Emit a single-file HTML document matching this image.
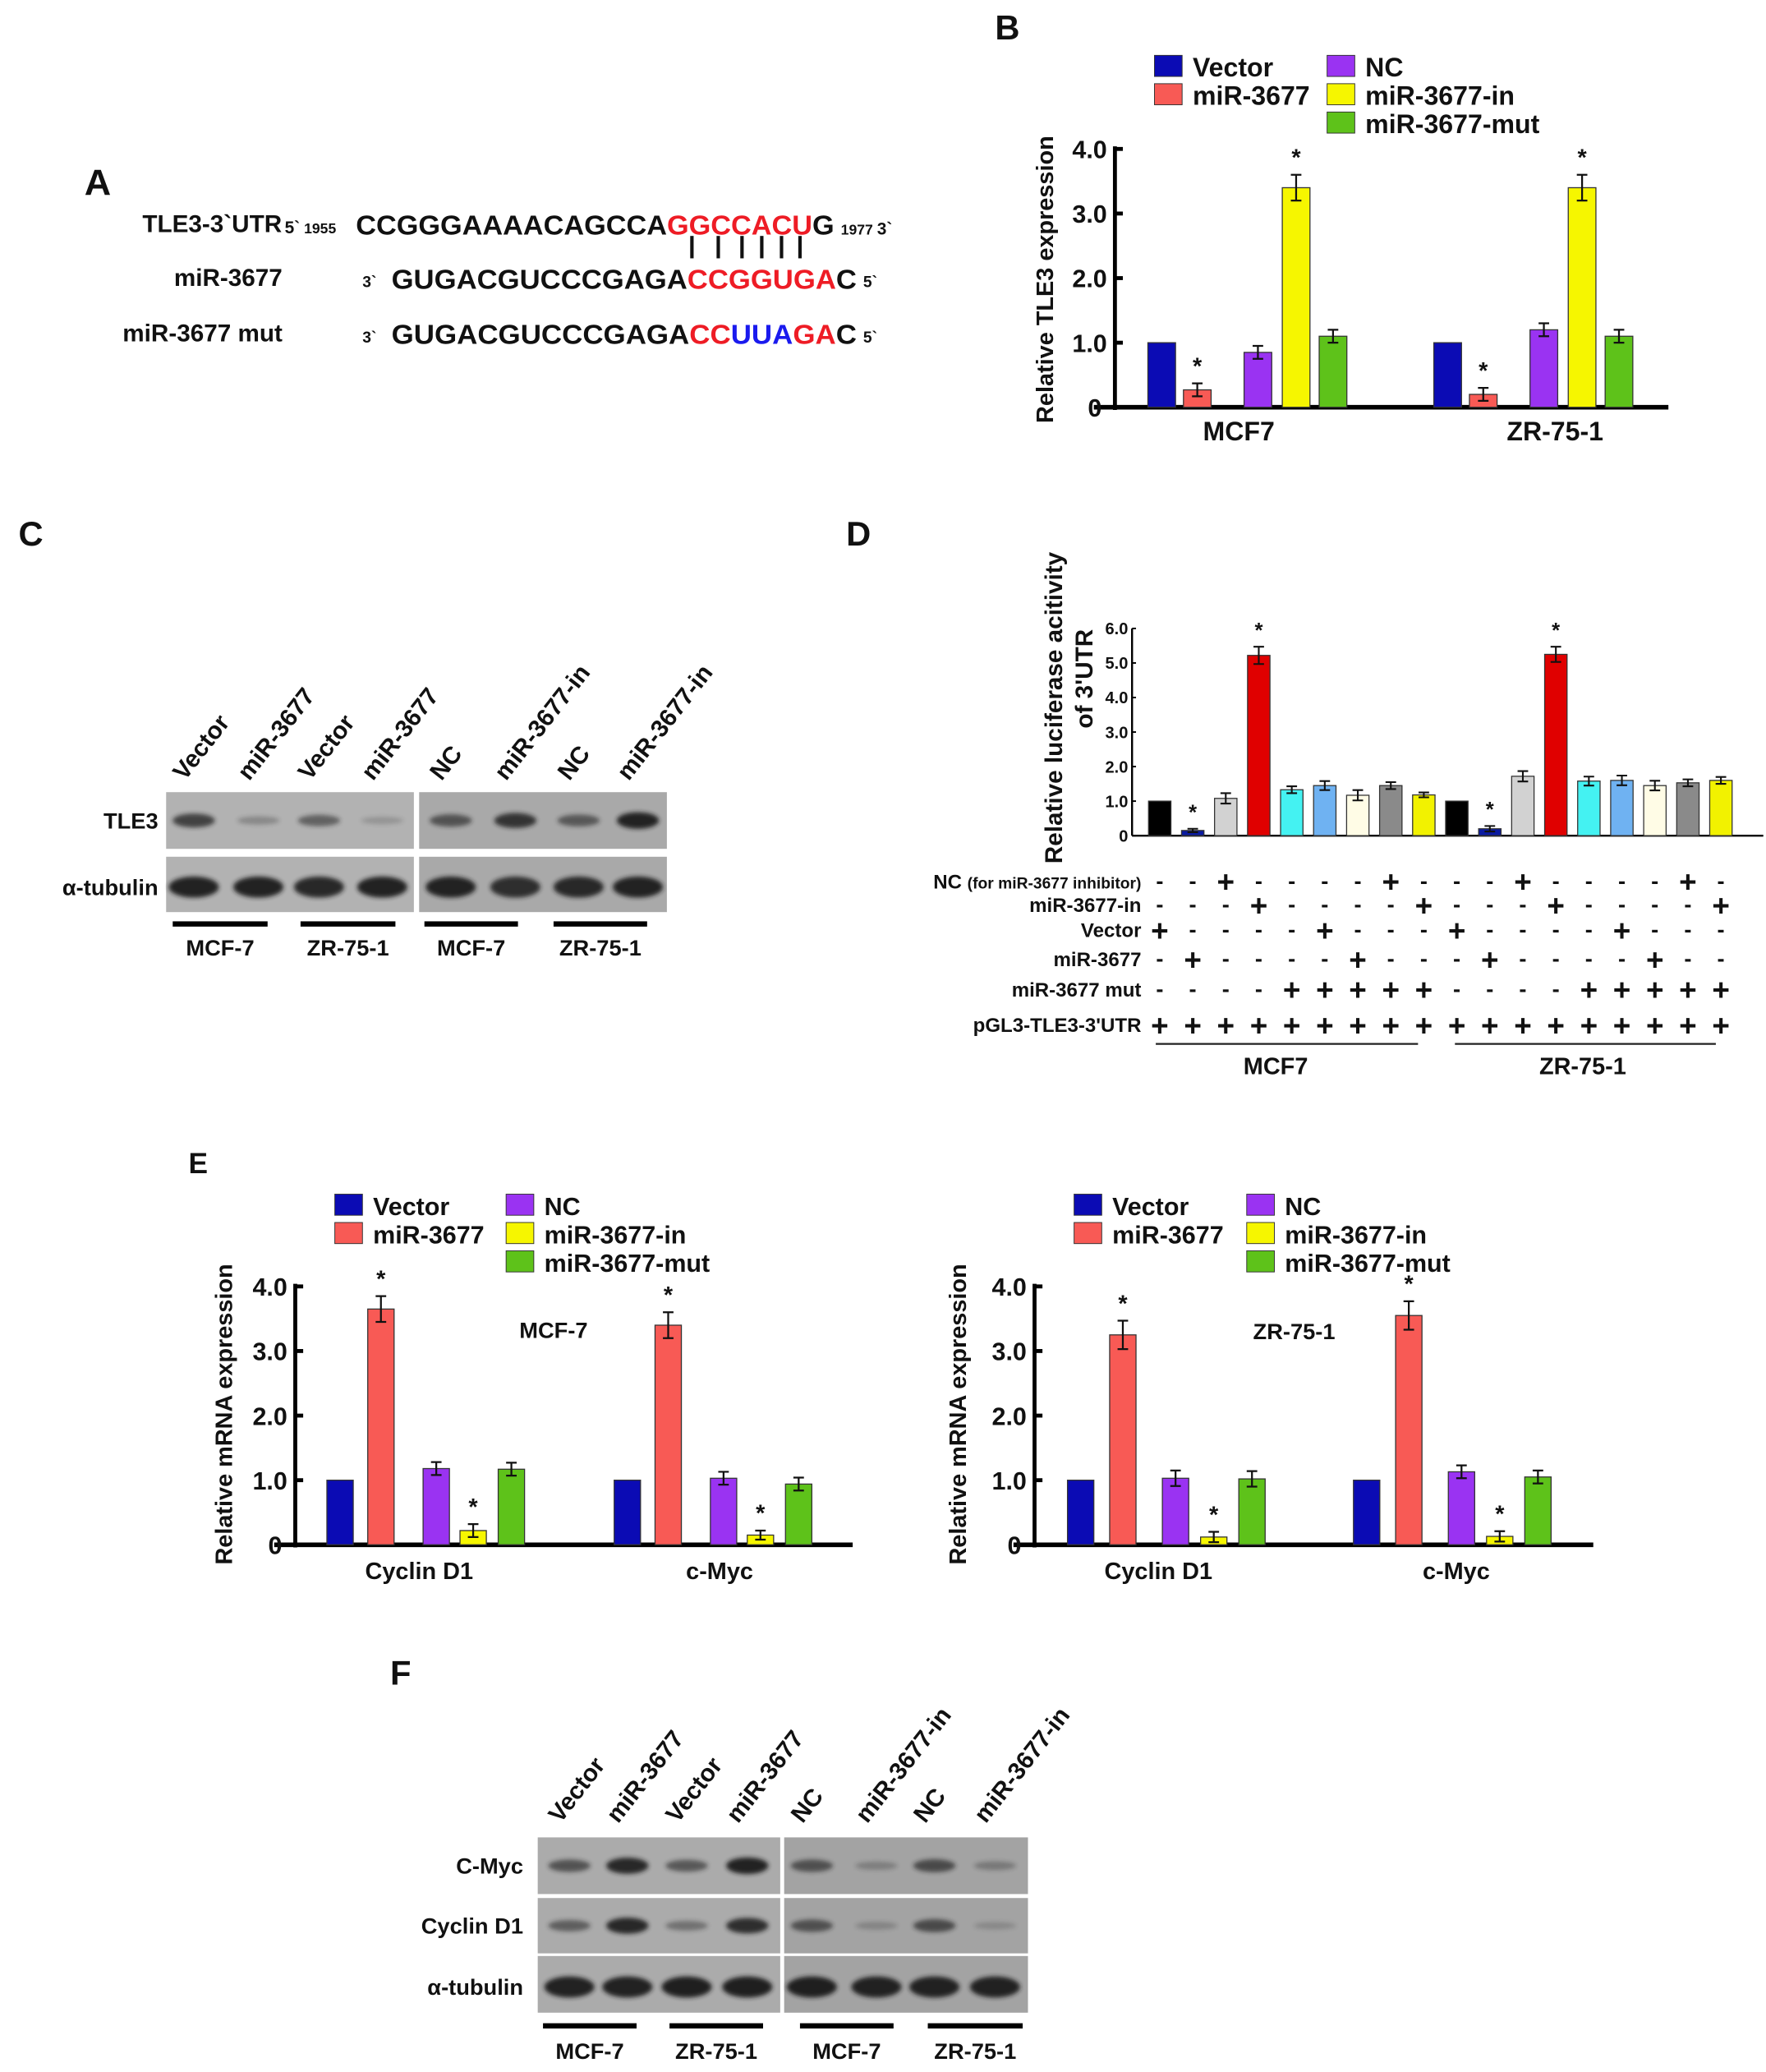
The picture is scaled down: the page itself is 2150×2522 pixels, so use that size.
<!DOCTYPE html>
<html><head><meta charset="utf-8"><style>
html,body{margin:0;padding:0;background:#fff}
svg{display:block}
text{font-family:"Liberation Sans",Arial,sans-serif;font-weight:bold;fill:#111}
</style></head><body>
<svg id="fig" xmlns="http://www.w3.org/2000/svg" width="2150" height="2522" viewBox="0 0 1340 1572">
<defs><filter id="blur" x="-50%" y="-100%" width="200%" height="300%"><feGaussianBlur stdDeviation="1.6"/></filter></defs>
<rect width="1340" height="1572" fill="#fff"/>
<!-- Panel A -->
<g>
<text x="64" y="148" font-size="28">A</text>
<text x="108" y="176" font-size="18.5">TLE3-3`UTR</text>
<text x="216" y="177" font-size="13">5`<tspan font-size="11"> 1955</tspan></text>
<text x="270" y="178" font-size="21" textLength="363" lengthAdjust="spacingAndGlyphs">CCGGGAAAACAGCCA<tspan fill="#ee1c25">GGCCACU</tspan>G</text>
<text x="638" y="178" font-size="11">1977 <tspan font-size="13">3`</tspan></text>
<g stroke="#111" stroke-width="2.6">
<line x1="525" y1="179" x2="525" y2="196"/><line x1="545" y1="179" x2="545" y2="196"/><line x1="563" y1="179" x2="563" y2="196"/><line x1="578" y1="179" x2="578" y2="196"/><line x1="593" y1="179" x2="593" y2="196"/><line x1="607" y1="179" x2="607" y2="196"/></g>
<text x="132" y="217" font-size="18.5">miR-3677</text>
<text x="275" y="218" font-size="12">3`</text>
<text x="297" y="219" font-size="21" textLength="353" lengthAdjust="spacingAndGlyphs">GUGACGUCCCGAGA<tspan fill="#ee1c25">CCGGUGA</tspan>C</text>
<text x="655" y="218" font-size="12">5`</text>
<text x="93" y="259" font-size="18.5">miR-3677 mut</text>
<text x="275" y="260" font-size="12">3`</text>
<text x="297" y="261" font-size="21" textLength="353" lengthAdjust="spacingAndGlyphs">GUGACGUCCCGAGA<tspan fill="#ee1c25">CC</tspan><tspan fill="#1a1aee">UUA</tspan><tspan fill="#ee1c25">GA</tspan>C</text>
<text x="655" y="260" font-size="12">5`</text>
</g>
<!-- letters -->
<text x="755" y="30" font-size="26">B</text>
<text x="14" y="414" font-size="26">C</text>
<text x="642" y="414" font-size="26">D</text>
<text x="143" y="890" font-size="22">E</text>
<text x="296" y="1278" font-size="26">F</text>
<g id="charts"></g>
</svg>
<script>
// ---- Panel B data ----
const bCategories = ['MCF7', 'ZR-75-1'];
const bSeries = ['Vector', 'miR-3677', 'NC', 'miR-3677-in', 'miR-3677-mut'];
const bVector = [1.0, 1.0];
const bMir = [0.27, 0.2];
const bNC = [0.85, 1.2];
const bIn = [3.4, 3.4];
const bMut = [1.1, 1.1];
const bErr = [[0, 0], [0.1, 0.1], [0.1, 0.1], [0.2, 0.2], [0.1, 0.1]];
const bStar = [[false, false], [true, true], [false, false], [true, true], [false, false]];
const bTicks = ['0', '1.0', '2.0', '3.0', '4.0'];
const bTickVals = [0, 1, 2, 3, 4];

// ---- Panel D data ----
const dGroups = ['MCF7', 'ZR-75-1'];
const dValsMCF7 = [1.0, 0.15, 1.08, 5.22, 1.33, 1.45, 1.17, 1.45, 1.18];
const dValsZR = [1.0, 0.2, 1.72, 5.25, 1.58, 1.6, 1.45, 1.53, 1.6];
const dErrMCF7 = [0, 0.05, 0.15, 0.25, 0.1, 0.13, 0.15, 0.1, 0.07];
const dErrZR = [0, 0.08, 0.15, 0.22, 0.13, 0.14, 0.14, 0.1, 0.1];
const dStar = [false, true, false, true, false, false, false, false, false];
const dTicks = ['0', '1.0', '2.0', '3.0', '4.0', '5.0', '6.0'];
const dTickVals = [0, 1, 2, 3, 4, 5, 6];
const dRowLabels = ['NC', 'miR-3677-in', 'Vector', 'miR-3677', 'miR-3677 mut', 'pGL3-TLE3-3\'UTR'];
const dRowNC = '--+----+-';
const dRowIn = '---+----+';
const dRowVector = '+----+---';
const dRowMir = '-+----+--';
const dRowMut = '----+++++';
const dRowPgl = '+++++++++';

// ---- Panel E data ----
const eCategories = ['Cyclin D1', 'c-Myc'];
const eLeftVector = [1.0, 1.0];
const eLeftMir = [3.65, 3.4];
const eLeftNC = [1.18, 1.03];
const eLeftIn = [0.22, 0.15];
const eLeftMut = [1.17, 0.94];
const eLeftErr = [[0, 0], [0.2, 0.2], [0.1, 0.1], [0.1, 0.07], [0.1, 0.1]];
const eRightVector = [1.0, 1.0];
const eRightMir = [3.25, 3.55];
const eRightNC = [1.03, 1.13];
const eRightIn = [0.12, 0.13];
const eRightMut = [1.02, 1.05];
const eRightErr = [[0, 0], [0.22, 0.22], [0.12, 0.1], [0.08, 0.08], [0.12, 0.1]];
const eStar = [[false, false], [true, true], [false, false], [true, true], [false, false]];
const eTicks = ['0', '1.0', '2.0', '3.0', '4.0'];
const eTickVals = [0, 1, 2, 3, 4];

// ---- Blots data ----
const blotLanes = ['Vector', 'miR-3677', 'Vector', 'miR-3677', 'NC', 'miR-3677-in', 'NC', 'miR-3677-in'];
const blotGroups = ['MCF-7', 'ZR-75-1', 'MCF-7', 'ZR-75-1'];
const cTle3 = [0.7, 0.15, 0.45, 0.06, 0.55, 0.8, 0.5, 0.95];
const cTub = [0.95, 0.95, 0.9, 0.95, 0.95, 0.85, 0.9, 0.95];
const fMyc = [0.55, 0.9, 0.5, 0.95, 0.55, 0.15, 0.6, 0.2];
const fCyc = [0.45, 0.9, 0.3, 0.85, 0.55, 0.1, 0.6, 0.06];
const fTub = [0.95, 0.95, 0.97, 0.97, 0.97, 0.95, 0.95, 0.95];

const NS = 'http://www.w3.org/2000/svg';
const root = document.getElementById('charts');
function mk(tag, attrs, parent) {
  const e = document.createElementNS(NS, tag);
  for (const k in attrs) e.setAttribute(k, attrs[k]);
  (parent || root).appendChild(e);
  return e;
}
function txt(s, attrs, parent) { const e = mk('text', attrs, parent); e.textContent = s; return e; }

const COLORS5 = ['#0b0bb4', '#f85a55', '#9a33f2', '#f6f600', '#5ec21a'];

function legend(x1, x2, y0, fs) {
  const items = [[x1, 0, 0], [x1, 1, 1], [x2, 0, 2], [x2, 1, 3], [x2, 2, 4]];
  items.forEach(function (it) {
    const y = y0 + it[1] * 21.5;
    const r = mk('rect', { x: it[0], y: y - 15, width: 21, height: 16, fill: COLORS5[it[2]], stroke: '#333', 'stroke-width': 0.6 });
    
    
    const t = txt(bSeries[it[2]], { x: it[0] + 29, y: y + 1, 'font-size': fs });
    
    
  });
}

function groupedChart(cfg, series, errs, stars, cats) {
  const y = function (v) { return cfg.y0 - v * cfg.unit; };
  const ax = mk('line', { x1: cfg.axisX, y1: y(4) - 2, x2: cfg.axisX, y2: cfg.y0 + 2, stroke: '#000', 'stroke-width': 3 });
  
  
  const xa = mk('line', { x1: cfg.xStart, y1: cfg.y0, x2: cfg.xEnd, y2: cfg.y0, stroke: '#000', 'stroke-width': 3.5 });
  
  
  cfg.tickVals.forEach(function (v, i) {
    const tk = mk('line', { x1: cfg.axisX, y1: y(v), x2: cfg.axisX + 6, y2: y(v), stroke: '#000', 'stroke-width': 3 });
    
    
    const tl = txt(cfg.ticks[i], { x: cfg.axisX - (v === 0 ? 10 : 6), y: y(v) + 7, 'font-size': 19, 'text-anchor': 'end' });
    
    
  });
  series.forEach(function (vals, s) {
    vals.forEach(function (v, g) {
      const x = cfg.gStart + g * cfg.gStep + cfg.offsets[s];
      const r = mk('rect', { x: x, y: y(v), width: cfg.bw, height: v * cfg.unit, fill: COLORS5[s], stroke: '#333', 'stroke-width': 0.8 });
      
      
      const e = errs[s][g];
      const cx = x + cfg.bw / 2;
      if (e > 0) {
        const eb = mk('path', { d: 'M' + cx + ' ' + y(v + e) + 'V' + y(v - e) + 'M' + (cx - 4) + ' ' + y(v + e) + 'h8M' + (cx - 4) + ' ' + y(v - e) + 'h8', stroke: '#111', 'stroke-width': 1.4, fill: 'none' });
        
        
      }
      if (stars[s][g]) {
        const st = txt('*', { x: cx, y: y(v + e) - 7, 'font-size': 18, 'text-anchor': 'middle', 'font-weight': 'normal' });
        
        
      }
    });
  });
  cats.forEach(function (c, g) {
    const t = txt(c, { x: cfg.catX[g], y: cfg.catY, 'font-size': cfg.catFs, 'text-anchor': 'middle' });
    
    
  });
  const yt = txt(cfg.title, { x: 0, y: 0, 'font-size': 18, 'text-anchor': 'middle', transform: 'translate(' + cfg.titleX + ',' + cfg.titleY + ') rotate(-90)' });
  
  
}

// Panel B
legend(876, 1007, 57, 20);
groupedChart({ y0: 309, unit: 49, axisX: 846, xStart: 830, xEnd: 1266, gStart: 871, gStep: 217, offsets: [0, 27, 73, 102, 130], bw: 21, ticks: bTicks, tickVals: bTickVals, catX: [940, 1180], catY: 334, catFs: 20, title: 'Relative TLE3 expression', titleX: 799, titleY: 212 },
  [bVector, bMir, bNC, bIn, bMut], bErr, bStar, bCategories);

// Panel E left
legend(254, 384, 921, 19);
groupedChart({ y0: 1172, unit: 49, axisX: 224, xStart: 208, xEnd: 647, gStart: 248, gStep: 218, offsets: [0, 31, 73, 101, 130], bw: 20, ticks: eTicks, tickVals: eTickVals, catX: [318, 546], catY: 1198, catFs: 18, title: 'Relative mRNA expression', titleX: 176, titleY: 1073 },
  [eLeftVector, eLeftMir, eLeftNC, eLeftIn, eLeftMut], eLeftErr, eStar, eCategories);
txt('MCF-7', { x: 420, y: 1015, 'font-size': 17, 'text-anchor': 'middle' });

// Panel E right
legend(815, 946, 921, 19);
groupedChart({ y0: 1172, unit: 49, axisX: 785, xStart: 769, xEnd: 1209, gStart: 810, gStep: 217, offsets: [0, 32, 72, 101, 130], bw: 20, ticks: eTicks, tickVals: eTickVals, catX: [879, 1105], catY: 1198, catFs: 18, title: 'Relative mRNA expression', titleX: 733, titleY: 1073 },
  [eRightVector, eRightMir, eRightNC, eRightIn, eRightMut], eRightErr, eStar, eCategories);
txt('ZR-75-1', { x: 982, y: 1016, 'font-size': 17, 'text-anchor': 'middle' });

// Panel D
(function () {
  const COLS = ['#000000', '#0a1aa0', '#d2d2d2', '#e00000', '#44f2f2', '#6fb2f2', '#fffce6', '#8a8a8a', '#f2f200'];
  const y0 = 634, unit = 26.2, axisX = 859, bw = 17;
  const y = function (v) { return y0 - v * unit; };
  const xc = function (i) { return 880 + i * 25.05; };
  const ax = mk('line', { x1: axisX, y1: y(6), x2: axisX, y2: y0, stroke: '#000', 'stroke-width': 1.5 });
  
  
  const xa = mk('line', { x1: axisX, y1: y0, x2: 1338, y2: y0, stroke: '#000', 'stroke-width': 1.5 });
  
  
  dTickVals.forEach(function (v, i) {
    const tk = mk('line', { x1: axisX, y1: y(v), x2: axisX + 3, y2: y(v), stroke: '#000', 'stroke-width': 1.2 });
    
    
    const tl = txt(dTicks[i], { x: axisX - 3, y: y(v) + 4.5, 'font-size': 12.5, 'text-anchor': 'end' });
    
    
  });
  const all = [dValsMCF7, dValsZR], errs = [dErrMCF7, dErrZR];
  all.forEach(function (vals, g) {
    vals.forEach(function (v, k) {
      const i = g * 9 + k, cx = xc(i);
      const r = mk('rect', { x: cx - bw / 2, y: y(v), width: bw, height: v * unit, fill: COLS[k], stroke: '#333', 'stroke-width': 0.8 });
      
      
      const e = errs[g][k];
      if (e > 0) {
        const eb = mk('path', { d: 'M' + cx + ' ' + y(v + e) + 'V' + y(v - e) + 'M' + (cx - 4) + ' ' + y(v + e) + 'h8M' + (cx - 4) + ' ' + y(v - e) + 'h8', stroke: '#111', 'stroke-width': 1.3, fill: 'none' });
        
        
      }
      if (dStar[k]) {
        const st = txt('*', { x: cx, y: y(v + e) - 7, 'font-size': 16, 'text-anchor': 'middle', 'font-weight': 'normal' });
        
        
      }
    });
  });
  const t1 = txt('Relative luciferase acitivity', { x: 0, y: 0, 'font-size': 18.5, 'text-anchor': 'middle', transform: 'translate(806,537) rotate(-90)' });
  
  
  const t2 = txt('of 3\'UTR', { x: 0, y: 0, 'font-size': 18.5, 'text-anchor': 'middle', transform: 'translate(829,515) rotate(-90)' });
  
  
  const rows = [dRowNC, dRowIn, dRowVector, dRowMir, dRowMut, dRowPgl];
  const rowY = [669, 687, 706, 728, 751, 778];
  rows.forEach(function (row, r) {
    let lab;
    if (r === 0) {
      lab = txt('', { x: 866, y: rowY[r] + 5, 'font-size': 15, 'text-anchor': 'end' });
      lab.innerHTML = 'NC <tspan font-size="12">(for miR-3677 inhibitor)</tspan>';
    } else {
      lab = txt(dRowLabels[r], { x: 866, y: rowY[r] + 5, 'font-size': 15, 'text-anchor': 'end' });
    }
    
    
    for (let g = 0; g < 2; g++) {
      for (let k = 0; k < 9; k++) {
        const c = row[k], i = g * 9 + k;
        const s = txt(c === '+' ? '+' : '-', { x: xc(i), y: rowY[r] + (c === '+' ? 8 : 5), 'font-size': c === '+' ? 23 : 17, 'text-anchor': 'middle' });
        
        
      }
    }
  });
  [[877, 1076, 968], [1104, 1302, 1201]].forEach(function (u, g) {
    const l = mk('line', { x1: u[0], y1: 792, x2: u[1], y2: 792, stroke: '#222', 'stroke-width': 1.4 });
    
    
    const t = txt(dGroups[g], { x: u[2], y: 815, 'font-size': 18, 'text-anchor': 'middle' });
    
    
  });
})();

// Blots
function blot(lanes, rows, panels, laneLabelY, unders, underY, groupLabelY, rowLabelX, lw, bg) {
  lanes.forEach(function (lx, i) {
    const t = txt(blotLanes[i], { x: 0, y: 0, 'font-size': 18.5, 'font-weight': 'normal', transform: 'translate(' + (lx - 7) + ',' + laneLabelY + ') rotate(-52)' });
    
    
  });
  rows.forEach(function (row) {
    panels.forEach(function (p, pi) {
      const r = mk('rect', { x: p[0], y: row.y1, width: p[1] - p[0], height: row.y2 - row.y1, fill: bg[pi] });
      
      
    });
    const cy = (row.y1 + row.y2) / 2 + (row.tub ? 2 : 0);
    row.vals.forEach(function (v, i) {
      const b = mk('ellipse', { cx: lanes[i], cy: cy, rx: row.tub ? lw : lw - 3, ry: row.tub ? 8 : 2.5 + 4 * v, fill: '#1e1e1e', opacity: Math.min(1, 0.15 + v * 0.85), filter: 'url(#blur)' });
      
      
    });
    const rl = txt(row.label, { x: rowLabelX, y: cy + 6, 'font-size': 17, 'text-anchor': 'end' });
    
    
  });
  unders.forEach(function (u, g) {
    const l = mk('rect', { x: u[0], y: underY - 2, width: u[1] - u[0], height: 4, fill: '#000' });
    
    
    const t = txt(blotGroups[g], { x: (u[0] + u[1]) / 2, y: groupLabelY, 'font-size': 17, 'text-anchor': 'middle' });
    
    
  });
}
blot([147, 196, 242, 290, 342, 391, 439, 484],
  [{ y1: 601, y2: 644, vals: cTle3, label: 'TLE3' }, { y1: 650, y2: 692, vals: cTub, label: 'α-tubulin', tub: true }],
  [[126, 314], [318, 506]], 593, [[131, 203], [228, 300], [322, 393], [420, 491]], 701, 725, 120, 19, ['#b2b2b2', '#a9a9a9']);
blot([432, 476, 521, 567, 616, 665, 709, 755],
  [{ y1: 1394, y2: 1437, vals: fMyc, label: 'C-Myc' }, { y1: 1440, y2: 1482, vals: fCyc, label: 'Cyclin D1' }, { y1: 1484, y2: 1527, vals: fTub, label: 'α-tubulin', tub: true }],
  [[408, 592], [595, 780]], 1384, [[412, 483], [508, 579], [607, 678], [704, 776]], 1537, 1562, 397, 19, ['#ababab', '#a3a3a3']);
</script>
</body></html>
